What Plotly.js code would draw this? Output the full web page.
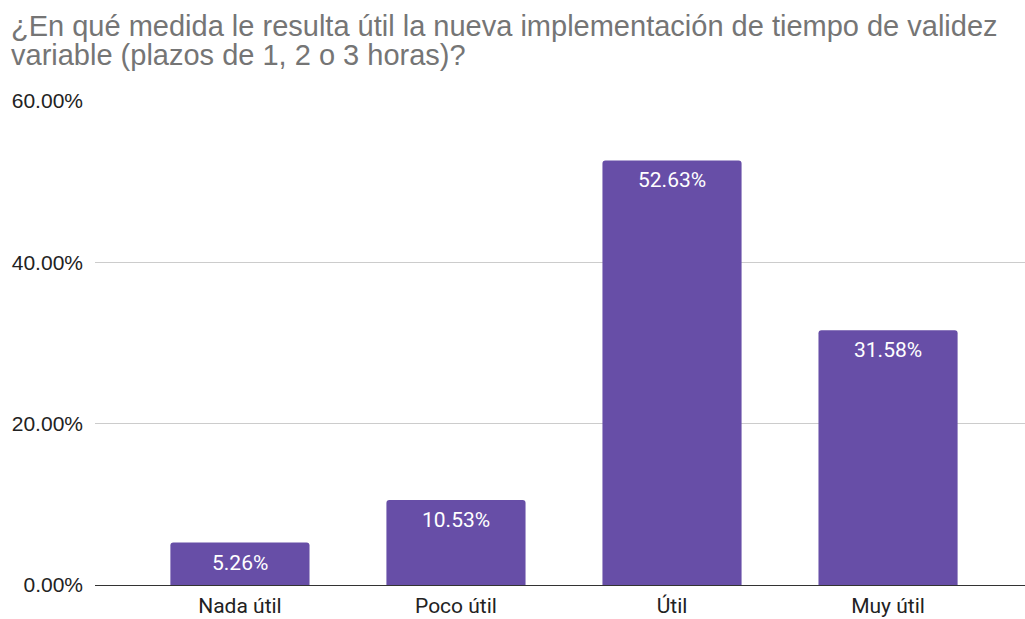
<!DOCTYPE html>
<html>
<head>
<meta charset="utf-8">
<script src="https://cdn.plot.ly/plotly-3.0.1.min.js"></script>
<style>html,body{margin:0;padding:0;background:#fff;}#chart{width:1025px;height:619px;}</style>
</head>
<body>
<div id="chart"></div>
<script>
const categories = ["Nada útil", "Poco útil", "Útil", "Muy útil"];
const values = [5.26, 10.53, 52.63, 31.58];
const labels = ["5.26%", "10.53%", "52.63%", "31.58%"];
const tickValues = [0, 20, 40, 60];
const tickLabels = ["0.00%", "20.00%", "40.00%", "60.00%"];
const titleLines = ["¿En qué medida le resulta útil la nueva implementación de tiempo de validez", "variable (plazos de 1, 2 o 3 horas)?"];

const W = 1025, H = 619;
const M = {l: 95, r: 0, t: 101, b: 34};
const plotW = W - M.l - M.r, plotH = H - M.t - M.b;
const px2x = px => (px - M.l) / plotW;
const py2y = py => (H - M.b - py) / plotH;

const trace = {
  type: "bar",
  x: categories,
  y: values,
  width: 0.644,
  marker: {color: "#674ea7", cornerradius: 3},
  hoverinfo: "none"
};

const annotations = categories.map((c, i) => ({
  x: c, y: values[i], xref: "x", yref: "y",
  text: labels[i], showarrow: false, yanchor: "middle", yshift: -20,
  font: {family: "Roboto, Arial, sans-serif", size: 21, color: "#ffffff"}
}));

const titleCenters = [26, 55];
titleLines.forEach((t, i) => {
  annotations.push({
    text: t, xref: "paper", yref: "paper",
    x: px2x(9), y: py2y(titleCenters[i]),
    xanchor: "left", yanchor: "middle", showarrow: false,
    font: {family: "Liberation Sans, Arial, sans-serif", size: 29, color: "#757575"}
  });
});

const layout = {
  width: W, height: H,
  margin: M,
  paper_bgcolor: "#ffffff", plot_bgcolor: "#ffffff",
  xaxis: {
    type: "category",
    range: [-0.671, 3.634],
    showgrid: false, zeroline: false,
    showline: true, linecolor: "#333333", linewidth: 1,
    ticks: "", ticklabelstandoff: 2,
    tickfont: {family: "Roboto, Arial, sans-serif", size: 21, color: "#222222"},
    fixedrange: true
  },
  yaxis: {
    range: [0, 60],
    tickvals: tickValues, ticktext: tickLabels,
    showgrid: true, gridcolor: "#cccccc", gridwidth: 1,
    zeroline: false, showline: false, ticks: "",
    ticklabelstandoff: 11,
    tickfont: {family: "Liberation Sans, Arial, sans-serif", size: 21, color: "#222222"},
    fixedrange: true
  },
  annotations: annotations,
  showlegend: false
};

Plotly.newPlot("chart", [trace], layout, {displayModeBar: false, staticPlot: true});
</script>
</body>
</html>
